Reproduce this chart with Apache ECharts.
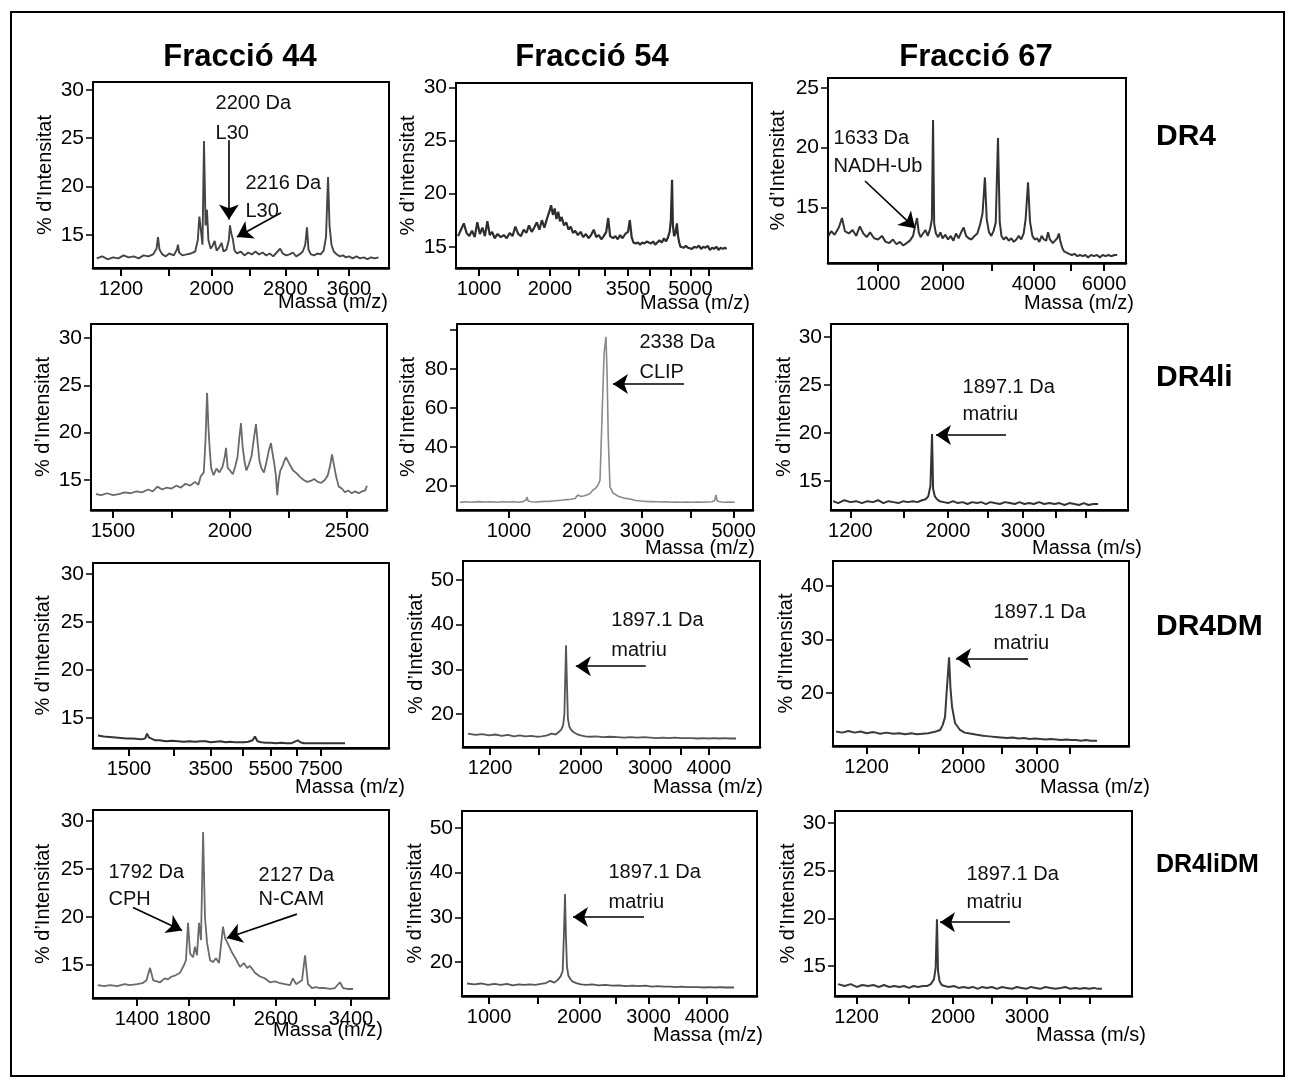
<!DOCTYPE html>
<html><head><meta charset="utf-8">
<script src="https://cdn.jsdelivr.net/npm/echarts@6/dist/echarts.min.js"></script>
<style>html,body{margin:0;padding:0;background:#fff}#c{width:1296px;height:1086px}</style>
</head><body><div id="c"></div>
<script>
// ---------- column / row labels ----------
const columns = ['Fracció 44', 'Fracció 54', 'Fracció 67'];
const rows = ['DR4', 'DR4li', 'DR4DM', 'DR4liDM'];

// ---------- spectra: [mass (m/z), % intensity] ----------
const f44_dr4 = [[1020,12.6],[1060,12.8],[1100,12.5],[1140,12.7],[1180,12.6],[1220,12.9],[1260,12.7],[1300,12.8],[1340,12.6],[1380,12.9],[1420,12.8],[1460,13.0],[1490,13.6],[1502,14.8],[1515,13.5],[1540,13.0],[1570,12.8],[1600,13.1],[1640,12.9],[1670,13.5],[1679,14.0],[1690,13.2],[1720,12.9],[1760,13.0],[1800,13.1],[1840,13.3],[1865,14.5],[1880,16.9],[1895,15.5],[1910,14.0],[1925,24.7],[1940,16.0],[1954,17.6],[1968,14.5],[1990,13.6],[2010,13.9],[2030,14.4],[2050,13.4],[2075,13.7],[2100,14.2],[2120,13.3],[2150,13.5],[2175,14.5],[2187,16.0],[2200,15.2],[2216,14.6],[2235,13.4],[2260,13.1],[2300,13.3],[2340,12.9],[2380,13.2],[2420,13.0],[2460,13.3],[2500,13.0],[2540,13.2],[2580,12.9],[2620,13.1],[2660,12.8],[2700,13.2],[2740,13.6],[2770,13.1],[2810,12.9],[2850,13.0],[2890,13.2],[2930,12.8],[2970,13.0],[3010,13.3],[3040,14.0],[3061,15.8],[3080,13.5],[3110,13.0],[3150,12.9],[3190,13.1],[3230,13.0],[3270,13.4],[3300,14.8],[3326,21.0],[3345,16.0],[3370,14.0],[3400,13.3],[3440,13.0],[3480,12.8],[3520,12.9],[3560,12.7],[3600,12.8],[3650,12.6],[3700,12.8],[3750,12.6],[3800,12.7],[3850,12.5],[3900,12.7],[3950,12.6],[4005,12.7]];
const f54_dr4 = [[770,16.0],[800,16.6],[830,17.2],[860,16.3],[890,16.0],[920,16.5],[950,15.9],[980,17.3],[1010,16.2],[1040,16.8],[1070,16.0],[1100,17.4],[1130,16.1],[1160,16.4],[1190,15.8],[1230,16.2],[1270,15.9],[1310,16.1],[1350,15.8],[1390,16.3],[1430,16.0],[1470,16.9],[1510,16.2],[1550,16.0],[1590,16.6],[1630,16.3],[1670,17.0],[1710,16.4],[1750,16.8],[1790,17.3],[1830,16.6],[1870,17.5],[1910,16.8],[1950,17.6],[1990,18.3],[2020,18.9],[2050,18.0],[2080,18.6],[2110,17.6],[2140,18.3],[2170,17.4],[2200,17.8],[2240,17.0],[2280,17.3],[2320,16.6],[2360,16.9],[2400,16.3],[2440,16.5],[2490,16.1],[2540,16.4],[2590,15.9],[2640,16.2],[2690,15.8],[2740,16.1],[2790,16.6],[2840,15.9],[2890,16.1],[2940,15.7],[2990,16.0],[3040,16.4],[3080,17.7],[3120,16.0],[3180,15.8],[3230,16.0],[3280,15.7],[3330,16.1],[3380,15.8],[3440,16.2],[3500,16.4],[3540,17.5],[3580,15.9],[3620,15.4],[3670,15.3],[3720,15.4],[3770,15.2],[3820,15.4],[3870,15.3],[3920,15.5],[3970,15.4],[4020,15.3],[4070,15.5],[4120,15.2],[4170,15.4],[4220,15.6],[4280,15.4],[4330,15.8],[4380,15.5],[4420,15.8],[4470,16.4],[4500,17.5],[4530,21.3],[4550,17.0],[4580,16.0],[4610,16.2],[4650,17.2],[4680,16.0],[4710,15.4],[4740,15.0],[4780,15.1],[4830,14.9],[4880,15.1],[4930,14.9],[4980,15.0],[5040,14.8],[5100,15.0],[5160,14.9],[5220,15.1],[5280,14.8],[5340,15.0],[5400,14.9],[5460,15.1],[5520,14.7],[5580,14.9],[5640,14.8],[5700,15.0],[5760,14.7],[5820,14.9],[5880,14.8],[5940,14.9],[5990,14.8]];
const f67_dr4 = [[465,12.6],[490,13.0],[520,12.7],[560,13.3],[591,14.1],[620,13.0],[660,12.8],[700,13.1],[740,12.6],[780,13.4],[820,12.8],[860,12.5],[900,12.9],[950,12.4],[1000,12.3],[1050,12.6],[1100,12.1],[1150,12.0],[1200,12.3],[1250,11.9],[1300,12.1],[1350,11.8],[1400,12.0],[1450,12.2],[1500,12.6],[1530,13.4],[1563,14.1],[1590,12.9],[1620,12.5],[1660,12.8],[1700,13.1],[1740,12.6],[1780,13.2],[1810,14.0],[1830,22.3],[1850,13.6],[1880,12.8],[1920,12.5],[1960,12.9],[2000,12.4],[2050,12.7],[2100,12.3],[2150,12.6],[2200,12.2],[2250,12.8],[2300,12.4],[2350,12.9],[2400,13.3],[2450,12.6],[2500,12.4],[2560,12.3],[2620,12.6],[2680,12.8],[2740,13.6],[2790,14.5],[2841,17.5],[2880,14.0],[2930,12.9],[2980,12.6],[3030,13.0],[3080,13.7],[3131,20.8],[3170,13.8],[3210,12.6],[3260,12.3],[3320,12.5],[3380,12.2],[3440,12.4],[3500,12.1],[3560,12.3],[3620,12.6],[3680,12.3],[3740,12.8],[3790,14.0],[3850,17.1],[3900,13.8],[3960,12.6],[4020,12.3],[4080,12.4],[4140,12.1],[4200,12.6],[4260,12.3],[4320,12.2],[4370,12.9],[4420,12.3],[4500,12.0],[4560,12.2],[4620,12.4],[4665,12.8],[4710,12.1],[4760,11.6],[4810,11.3],[4880,11.2],[4950,11.1],[5030,11.0],[5110,11.1],[5190,10.9],[5270,11.0],[5350,10.9],[5430,11.0],[5510,10.8],[5600,11.0],[5690,10.9],[5780,11.0],[5870,10.8],[5960,11.0],[6050,10.9],[6140,11.0],[6230,10.9],[6330,11.0],[6420,11.0]];
const f44_dr4li = [[1427,13.5],[1450,13.4],[1475,13.6],[1500,13.4],[1525,13.5],[1550,13.7],[1575,13.6],[1600,13.8],[1625,13.7],[1650,14.0],[1670,13.8],[1690,14.3],[1710,14.0],[1730,14.2],[1750,14.1],[1770,14.4],[1790,14.2],[1810,14.6],[1830,14.4],[1850,14.8],[1865,14.5],[1875,15.4],[1888,15.8],[1895,19.0],[1902,24.2],[1908,20.5],[1914,18.0],[1920,16.2],[1930,15.5],[1942,16.2],[1955,15.8],[1968,16.4],[1978,17.5],[1983,18.4],[1990,16.3],[2000,16.0],[2012,15.6],[2022,16.4],[2032,17.4],[2040,19.5],[2047,21.0],[2054,18.5],[2062,17.0],[2070,16.0],[2080,16.6],[2092,17.5],[2100,19.0],[2111,20.9],[2118,19.0],[2126,17.0],[2135,16.2],[2145,15.8],[2155,16.8],[2165,18.0],[2175,18.9],[2182,17.8],[2190,16.6],[2196,15.5],[2202,13.4],[2208,15.0],[2215,16.0],[2225,16.5],[2232,17.0],[2239,17.4],[2248,17.0],[2258,16.5],[2270,16.0],[2285,15.7],[2300,15.3],[2315,15.0],[2330,14.8],[2345,14.9],[2360,15.1],[2375,14.8],[2390,14.7],[2405,15.0],[2418,15.5],[2428,16.5],[2436,17.7],[2445,16.5],[2455,15.2],[2465,14.3],[2478,14.1],[2491,13.7],[2505,13.9],[2520,13.6],[2535,13.8],[2550,13.6],[2565,13.8],[2578,13.9],[2585,14.4]];
const f54_dr4li = [[534,11.6],[580,11.9],[630,11.7],[690,12.0],[750,11.8],[810,11.9],[870,11.7],[930,11.9],[990,11.8],[1050,11.9],[1110,11.7],[1160,12.0],[1195,12.8],[1208,14.4],[1222,12.3],[1260,11.9],[1320,11.8],[1380,12.0],[1440,12.2],[1500,12.1],[1560,12.4],[1620,12.6],[1680,12.8],[1740,13.0],[1800,13.2],[1860,13.6],[1900,15.4],[1950,14.6],[2000,15.0],[2060,15.6],[2100,16.5],[2137,18.0],[2180,18.8],[2220,20.5],[2252,23.0],[2267,37.4],[2290,60.0],[2320,88.0],[2351,96.4],[2370,78.0],[2390,45.0],[2419,19.5],[2471,16.4],[2560,14.8],[2660,13.8],[2774,13.3],[2880,12.6],[2980,12.3],[3080,12.1],[3180,12.0],[3280,11.9],[3380,11.8],[3480,11.9],[3590,11.7],[3700,11.8],[3810,11.7],[3920,11.8],[4030,11.7],[4140,11.8],[4250,11.7],[4360,11.8],[4470,11.9],[4540,12.5],[4572,15.4],[4600,12.3],[4700,11.8],[4800,11.7],[4900,11.8],[5027,11.7]];
const f67_dr4li = [[860,12.9],[900,12.7],[950,13.0],[1000,12.8],[1050,12.9],[1100,12.7],[1150,12.9],[1200,12.8],[1250,13.0],[1300,12.7],[1350,12.9],[1400,12.8],[1450,12.7],[1500,12.9],[1550,12.8],[1600,12.9],[1650,12.8],[1700,13.0],[1740,13.1],[1770,13.4],[1795,14.5],[1813,19.9],[1825,14.2],[1845,13.4],[1870,13.1],[1900,12.9],[1950,12.8],[2000,12.7],[2060,12.9],[2120,12.7],[2180,12.8],[2240,12.6],[2300,12.8],[2360,12.7],[2420,12.8],[2480,12.6],[2540,12.8],[2600,12.7],[2670,12.6],[2740,12.8],[2810,12.7],[2880,12.6],[2950,12.8],[3020,12.6],[3090,12.7],[3160,12.6],[3240,12.8],[3320,12.6],[3400,12.7],[3480,12.6],[3560,12.7],[3640,12.5],[3720,12.7],[3800,12.6],[3880,12.5],[3960,12.7],[4040,12.5],[4120,12.6],[4203,12.6]];
const f44_dr4dm = [[960,13.2],[1050,13.1],[1150,13.05],[1250,13.0],[1350,12.95],[1450,12.9],[1550,12.9],[1650,12.85],[1750,12.8],[1830,12.9],[1870,13.4],[1890,13.6],[1910,13.0],[1950,12.8],[2050,12.7],[2150,12.7],[2300,12.6],[2450,12.65],[2600,12.6],[2750,12.55],[2900,12.6],[3050,12.55],[3200,12.6],[3350,12.6],[3500,12.5],[3650,12.55],[3800,12.6],[3950,12.5],[4100,12.55],[4250,12.5],[4400,12.5],[4550,12.5],[4700,12.55],[4850,12.7],[4930,13.1],[4967,13.0],[5020,12.6],[5150,12.5],[5300,12.45],[5500,12.45],[5700,12.4],[5900,12.45],[6100,12.4],[6300,12.4],[6550,12.7],[6650,12.5],[6800,12.4],[7000,12.4],[7200,12.4],[7400,12.4],[7700,12.4],[8000,12.4],[8300,12.4],[8599,12.4]];
const f54_dr4dm = [[809,15.6],[870,15.3],[930,15.5],[990,15.2],[1050,15.4],[1110,15.1],[1170,15.3],[1230,15.0],[1290,15.2],[1350,15.0],[1410,15.1],[1470,14.9],[1530,15.0],[1590,15.2],[1640,15.6],[1690,15.4],[1730,16.0],[1760,16.6],[1780,17.5],[1795,20.0],[1808,30.0],[1815,35.4],[1825,28.0],[1838,19.0],[1855,17.2],[1880,16.4],[1910,15.9],[1950,15.5],[2000,15.2],[2060,15.0],[2130,14.9],[2200,15.0],[2300,14.8],[2400,14.9],[2500,14.8],[2600,14.7],[2700,14.8],[2800,14.7],[2900,14.8],[3000,14.7],[3100,14.6],[3200,14.7],[3300,14.6],[3400,14.7],[3500,14.6],[3600,14.6],[3700,14.6],[3800,14.5],[3900,14.6],[4000,14.5],[4100,14.6],[4200,14.5],[4300,14.6],[4400,14.5],[4512,14.5]];
const f67_dr4dm = [[755,12.8],[800,12.6],[850,12.9],[900,12.6],[950,12.8],[1000,12.5],[1060,12.7],[1120,12.4],[1180,12.6],[1240,12.4],[1300,12.5],[1360,12.3],[1420,12.5],[1480,12.3],[1540,12.4],[1600,12.5],[1660,12.7],[1700,12.9],[1731,13.1],[1760,14.0],[1787,15.5],[1805,20.0],[1834,26.7],[1850,21.0],[1869,17.4],[1904,14.4],[1963,13.1],[2020,12.6],[2100,12.4],[2173,12.2],[2250,12.0],[2330,11.9],[2410,11.8],[2490,11.7],[2570,11.6],[2650,11.7],[2730,11.5],[2810,11.6],[2890,11.4],[2970,11.5],[3050,11.4],[3130,11.3],[3210,11.4],[3290,11.3],[3370,11.2],[3450,11.3],[3530,11.2],[3610,11.2],[3690,11.1],[3770,11.2],[3850,11.1],[3960,11.1]];
const f44_dr4lidm = [[1129,12.9],[1170,12.8],[1210,12.9],[1260,12.8],[1310,13.0],[1350,12.9],[1400,13.0],[1440,13.1],[1470,13.4],[1497,14.7],[1521,13.4],[1574,13.2],[1610,13.6],[1636,13.5],[1665,13.8],[1692,13.9],[1733,14.2],[1765,15.0],[1781,15.5],[1798,19.4],[1815,16.2],[1840,15.8],[1856,16.9],[1873,16.0],[1890,19.4],[1907,17.6],[1925,28.85],[1941,20.0],[1959,17.3],[1985,15.5],[2011,15.3],[2037,15.7],[2064,15.2],[2081,17.0],[2099,19.0],[2118,17.8],[2144,17.2],[2181,16.3],[2217,15.6],[2254,14.8],[2291,15.2],[2319,14.7],[2348,14.9],[2395,14.2],[2443,13.8],[2492,13.6],[2541,13.2],[2590,13.3],[2641,13.1],[2690,13.0],[2742,12.9],[2772,13.6],[2804,13.0],[2866,13.4],[2898,16.0],[2929,13.0],[2971,12.6],[3010,12.7],[3057,12.6],[3110,12.6],[3166,12.5],[3220,12.6],[3277,13.2],[3311,12.6],[3360,12.5],[3424,12.5]];
const f54_dr4lidm = [[808,15.2],[870,15.0],[930,15.2],[990,14.9],[1050,15.1],[1110,14.9],[1170,15.1],[1230,14.8],[1290,15.0],[1350,14.9],[1410,15.0],[1470,14.9],[1530,15.1],[1590,15.3],[1640,15.8],[1690,15.4],[1730,16.0],[1765,16.8],[1790,18.0],[1805,26.0],[1819,35.2],[1830,26.0],[1843,19.0],[1860,17.0],[1885,16.2],[1915,15.6],[1960,15.3],[2020,15.0],[2090,14.9],[2170,15.0],[2260,14.8],[2350,14.9],[2450,14.7],[2550,14.8],[2650,14.6],[2750,14.7],[2850,14.6],[2950,14.7],[3050,14.5],[3150,14.6],[3250,14.5],[3350,14.5],[3450,14.4],[3550,14.5],[3650,14.4],[3750,14.4],[3850,14.4],[3950,14.3],[4050,14.4],[4150,14.3],[4250,14.4],[4350,14.3],[4513,14.3]];
const f67_dr4lidm = [[847,13.1],[900,12.9],[950,13.1],[1000,12.8],[1050,13.0],[1100,12.9],[1150,13.0],[1200,12.8],[1250,13.0],[1300,12.8],[1350,12.9],[1400,12.8],[1450,12.9],[1500,12.7],[1550,12.9],[1600,12.8],[1650,12.9],[1700,12.9],[1740,13.1],[1775,13.6],[1795,14.8],[1810,19.9],[1822,14.5],[1840,13.4],[1865,13.0],[1900,12.9],[1950,12.8],[2010,12.9],[2070,12.7],[2130,12.8],[2190,12.7],[2250,12.8],[2310,12.6],[2370,12.8],[2430,12.7],[2500,12.8],[2570,12.6],[2640,12.8],[2710,12.7],[2780,12.6],[2850,12.8],[2920,12.7],[2990,12.6],[3060,12.8],[3130,12.7],[3200,12.6],[3280,12.8],[3360,12.7],[3440,12.6],[3520,12.7],[3600,12.8],[3680,12.6],[3760,12.7],[3840,12.6],[3920,12.7],[4000,12.6],[4080,12.7],[4150,12.6],[4220,12.6]];

// ---------- x tick masses and their printed labels ----------
const xt_f44_dr4 = [1200,1600,2000,2400,2800,3200,3600];            const xl_f44_dr4 = ['1200','','2000','','2800','','3600'];
const xt_f54_dr4 = [1000,1500,2000,2500,3000,3500,4000,4500,5000,5500]; const xl_f54_dr4 = ['1000','','2000','','','3500','','','5000',''];
const xt_f67_dr4 = [1000,2000,3000,4000,5000,6000];                  const xl_f67_dr4 = ['1000','2000','','4000','','6000'];
const xt_f44_dr4li = [1500,1750,2000,2250,2500];                     const xl_f44_dr4li = ['1500','','2000','','2500'];
const xt_f54_dr4li = [1000,2000,3000,4000,5000];                     const xl_f54_dr4li = ['1000','2000','3000','','5000'];
const xt_f67_dr4li = [1000,1500,2000,2500,3000,3500,4000];           const xl_f67_dr4li = ['1200','','2000','','3000','',''];
const xt_f44_dr4dm = [1500,2500,3500,4500,5500,6500,7500];           const xl_f44_dr4dm = ['1500','','3500','','5500','','7500'];
const xt_f54_dr4dm = [1000,1500,2000,2500,3000,3500,4000];           const xl_f54_dr4dm = ['1200','','2000','','3000','','4000'];
const xt_f67_dr4dm = [1000,1500,2000,2500,3000,3500];                const xl_f67_dr4dm = ['1200','','2000','','3000',''];
const xt_f44_dr4lidm = [1400,1800,2200,2600,3000,3400];              const xl_f44_dr4lidm = ['1400','1800','','2600','','3400'];
const xt_f54_dr4lidm = [1000,1500,2000,2500,3000,3500,4000];         const xl_f54_dr4lidm = ['1000','','2000','','3000','','4000'];
const xt_f67_dr4lidm = [1000,1500,2000,2500,3000,3500,4000];         const xl_f67_dr4lidm = ['1200','','2000','','3000','',''];

// ---------- y ticks and labels ----------
const yt_15_30 = [15,20,25,30];
const yt_15_25 = [15,20,25];
const yt_20_100 = [20,40,60,80,100]; const yl_20_80 = [20,40,60,80];
const yt_20_50 = [20,30,40,50];
const yt_20_40 = [20,30,40];

// ---------- annotations: text [mass, intensity]; arrows [mass1, int1, mass2, int2] ----------
const notes_f44_dr4 = [['2200 Da',2034,28.6],['L30',2034,25.5],['2216 Da',2345,20.3],['L30',2345,17.4]];
const arrows_f44_dr4 = [[2176,24.8,2176,16.6],[2750,17.3,2260,14.8]];
const notes_f67_dr4 = [['1633 Da',506,20.8],['NADH-Ub',506,18.4]];
const arrows_f67_dr4 = [[840,17.2,1530,13.25]];
const notes_f54_dr4li = [['2338 Da',2941,93.3],['CLIP',2941,78]];
const arrows_f54_dr4li = [[3851,72.3,2471,72.3]];
const notes_f67_dr4li = [['1897.1 Da',2172,24.7],['matriu',2172,21.9]];
const arrows_f67_dr4li = [[2756,19.8,1858,19.8]];
const notes_f54_dr4dm = [['1897.1 Da',2408,41.0],['matriu',2408,34.3]];
const arrows_f54_dr4dm = [[2930,30.7,1938,30.7]];
const notes_f67_dr4dm = [['1897.1 Da',2382,35.0],['matriu',2382,29.2]];
const arrows_f67_dr4dm = [[2868,26.5,1916,26.5]];
const notes_f44_dr4lidm = [['1792 Da',1196,24.6],['CPH',1196,21.8],['2127 Da',2425,24.3],['N-CAM',2425,21.8]];
const arrows_f44_dr4lidm = [[1371,21.0,1749,18.6],[2813,20.3,2134,17.8]];
const notes_f54_dr4lidm = [['1897.1 Da',2390,40.1],['matriu',2390,33.4]];
const arrows_f54_dr4lidm = [[2929,30.1,1919,30.1]];
const notes_f67_dr4lidm = [['1897.1 Da',2161,24.6],['matriu',2161,21.7]];
const arrows_f67_dr4lidm = [[2752,19.6,1845,19.6]];

// ---------- panel layout (pixels) and axis ranges ----------
const panels = [
  {data:f44_dr4, xt:xt_f44_dr4, xl:xl_f44_dr4, yt:yt_15_30, yl:yt_15_30, grid:[93,82,296,186], xr:[994,4154], yr:[11.6,30.8], sc:'sqrt', yNameX:45, mass:'Massa (m/z)', massR:388, massY:302, color:'#444', lw:1.9, notes:notes_f44_dr4, arrows:arrows_f44_dr4},
  {data:f54_dr4, xt:xt_f54_dr4, xl:xl_f54_dr4, yt:yt_15_30, yl:yt_15_30, grid:[456,83,296,185], xr:[749,6737], yr:[13.0,30.4], sc:'sqrt', yNameX:408, mass:'Massa (m/z)', massR:750, massY:303, color:'#2e2e2e', lw:2.2},
  {data:f67_dr4, xt:xt_f67_dr4, xl:xl_f67_dr4, yt:yt_15_25, yl:yt_15_25, grid:[828,78,298,185], xr:[461,6711], yr:[10.33,25.83], sc:'sqrt', yNameX:778, mass:'Massa (m/z)', massR:1134, massY:303, color:'#333', lw:2.0, notes:notes_f67_dr4, arrows:arrows_f67_dr4},
  {data:f44_dr4li, xt:xt_f44_dr4li, xl:xl_f44_dr4li, yt:yt_15_30, yl:yt_15_30, grid:[91,324,296,186], xr:[1406,2671], yr:[11.83,31.48], sc:'lin', yNameX:43, mass:null, color:'#6a6a6a', lw:1.8},
  {data:f54_dr4li, xt:xt_f54_dr4li, xl:xl_f54_dr4li, yt:yt_20_100, yl:yl_20_80, grid:[457,324,296,186], xr:[510,5485], yr:[7.7,103], sc:'sqrt', yNameX:408, mass:'Massa (m/z)', massR:755, massY:548, color:'#8a8a8a', lw:1.6, notes:notes_f54_dr4li, arrows:arrows_f54_dr4li},
  {data:f67_dr4li, xt:xt_f67_dr4li, xl:xl_f67_dr4li, yt:yt_15_30, yl:yt_15_30, grid:[831,324,297,186], xr:[843,4740], yr:[11.98,31.35], sc:'sqrt', yNameX:785, mass:'Massa (m/s)', massR:1142, massY:548, color:'#333', lw:2.0, notes:notes_f67_dr4li, arrows:arrows_f67_dr4li},
  {data:f44_dr4dm, xt:xt_f44_dr4dm, xl:xl_f44_dr4dm, yt:yt_15_30, yl:yt_15_30, grid:[93,563,296,185], xr:[884,10760], yr:[11.9,31.15], sc:'sqrt', yNameX:43, mass:'Massa (m/z)', massR:405, massY:787, color:'#333', lw:2.0},
  {data:f54_dr4dm, xt:xt_f54_dr4dm, xl:xl_f54_dr4dm, yt:yt_20_50, yl:yt_20_50, grid:[463,561,297,186], xr:[768,4990], yr:[12.6,54.25], sc:'sqrt', yNameX:417, mass:'Massa (m/z)', massR:763, massY:787, color:'#555', lw:1.8, notes:notes_f54_dr4dm, arrows:arrows_f54_dr4dm},
  {data:f67_dr4dm, xt:xt_f67_dr4dm, xl:xl_f67_dr4dm, yt:yt_20_40, yl:yt_20_40, grid:[833,561,296,185], xr:[732,4525], yr:[10.1,44.7], sc:'sqrt', yNameX:787, mass:'Massa (m/z)', massR:1150, massY:787, color:'#3a3a3a', lw:2.0, notes:notes_f67_dr4dm, arrows:arrows_f67_dr4dm},
  {data:f44_dr4lidm, xt:xt_f44_dr4lidm, xl:xl_f44_dr4lidm, yt:yt_15_30, yl:yt_15_30, grid:[93,810,296,188], xr:[1097,3848], yr:[11.56,31.15], sc:'sqrt', yNameX:43, mass:'Massa (m/z)', massR:383, massY:1030, color:'#6a6a6a', lw:1.8, notes:notes_f44_dr4lidm, arrows:arrows_f44_dr4lidm},
  {data:f54_dr4lidm, xt:xt_f54_dr4lidm, xl:xl_f54_dr4lidm, yt:yt_20_50, yl:yt_20_50, grid:[462,811,295,185], xr:[767,4973], yr:[12.4,53.8], sc:'sqrt', yNameX:415, mass:'Massa (m/z)', massR:763, massY:1035, color:'#555', lw:1.8, notes:notes_f54_dr4lidm, arrows:arrows_f54_dr4lidm},
  {data:f67_dr4lidm, xt:xt_f67_dr4lidm, xl:xl_f67_dr4lidm, yt:yt_15_30, yl:yt_15_30, grid:[835,811,297,185], xr:[823,4767], yr:[11.85,31.26], sc:'sqrt', yNameX:790, mass:'Massa (m/s)', massR:1146, massY:1035, color:'#3a3a3a', lw:2.0, notes:notes_f67_dr4lidm, arrows:arrows_f67_dr4lidm}
];

const FONT = '"Liberation Sans", Arial, Helvetica, sans-serif';
const grids = [], xAxes = [], yAxes = [], series = [];
const graphic = [
  {type: 'rect', shape: {x: 11, y: 12, width: 1273, height: 1064}, style: {fill: 'transparent', stroke: '#000', lineWidth: 2}, z: -1}
];

panels.forEach((p, i) => {
  const tf = p.sc === 'sqrt' ? (m => Math.sqrt(m)) : (m => m);
  const [l, t, w, h] = p.grid;
  grids.push({left: l, top: t, width: w, height: h, show: true, borderColor: '#000', borderWidth: 2, backgroundColor: 'transparent'});
  const xtv = p.xt.map(tf);
  xAxes.push({
    gridIndex: i, type: 'value', min: tf(p.xr[0]), max: tf(p.xr[1]),
    axisLine: {show: true, onZero: false, lineStyle: {color: '#000', width: 2.5}},
    axisTick: {show: true, customValues: xtv, length: 8, lineStyle: {color: '#000', width: 2}},
    axisLabel: {show: true, customValues: xtv, fontSize: 20, color: '#000', fontFamily: FONT, margin: 11,
      formatter: v => { let bi = 0, bd = Infinity; xtv.forEach((tv, k) => { const d = Math.abs(tv - v); if (d < bd) { bd = d; bi = k; } }); return p.xl[bi]; }},
    splitLine: {show: false}
  });
  yAxes.push({
    gridIndex: i, type: 'value', min: p.yr[0], max: p.yr[1],
    axisLine: {show: true, lineStyle: {color: '#000', width: 2}},
    axisTick: {show: true, customValues: p.yt, length: 7, lineStyle: {color: '#000', width: 1.5}},
    axisLabel: {show: true, customValues: p.yl, fontSize: 21, color: '#000', fontFamily: FONT, margin: 9},
    splitLine: {show: false},
    name: '% d’Intensitat', nameLocation: 'middle', nameGap: l - p.yNameX - 10,
    nameTextStyle: {fontSize: 20, color: '#000', fontFamily: FONT}
  });
  if (p.mass) {
    graphic.push({type: 'text', x: p.massR, y: p.massY,
      style: {text: p.mass, fill: '#000', font: '20px ' + FONT, align: 'right', verticalAlign: 'middle', textAlign: 'right', textVerticalAlign: 'middle'}});
  }
  const s = {
    type: 'line', xAxisIndex: i, yAxisIndex: i, showSymbol: false, symbol: 'none',
    lineStyle: {color: p.color, width: p.lw}, itemStyle: {color: p.color},
    data: p.data.map(d => [tf(d[0]), d[1]]), silent: true
  };
  if (p.notes) {
    s.markPoint = {
      silent: true, symbol: 'circle', symbolSize: 1, itemStyle: {color: 'rgba(0,0,0,0)'},
      label: {show: true, position: 'right', distance: 0, fontSize: 20, color: '#111', fontFamily: FONT, formatter: q => q.name},
      data: p.notes.map(n => ({name: n[0], coord: [tf(n[1]), n[2]]}))
    };
  }
  if (p.arrows) {
    s.markLine = {
      silent: true, symbol: ['none', 'arrow'], symbolSize: 15, symbolOffset: 0,
      lineStyle: {color: '#000', width: 1.6, type: 'solid'}, itemStyle: {color: '#000'}, label: {show: false},
      emphasis: {disabled: true},
      data: p.arrows.map(a => [{coord: [tf(a[0]), a[1]]}, {coord: [tf(a[2]), a[3]]}])
    };
  }
  series.push(s);
});

const colX = [240, 592, 976];
const rowY = [137, 378, 627, 865];
const rowSize = [30, 30, 30, 25];
columns.forEach((c, k) => graphic.push({type: 'text', x: colX[k], y: 57,
  style: {text: c, fill: '#000', font: 'bold 31px ' + FONT, align: 'center', verticalAlign: 'middle', textAlign: 'center', textVerticalAlign: 'middle'}}));
rows.forEach((r, k) => graphic.push({type: 'text', x: 1156, y: rowY[k],
  style: {text: r, fill: '#000', font: 'bold ' + rowSize[k] + 'px ' + FONT, align: 'left', verticalAlign: 'middle', textAlign: 'left', textVerticalAlign: 'middle'}}));

const chart = echarts.init(document.getElementById('c'), null, {renderer: 'canvas'});
chart.setOption({
  animation: false, backgroundColor: '#fff',
  textStyle: {fontFamily: FONT},
  grid: grids, xAxis: xAxes, yAxis: yAxes, series: series, graphic: graphic
});
</script></body></html>
